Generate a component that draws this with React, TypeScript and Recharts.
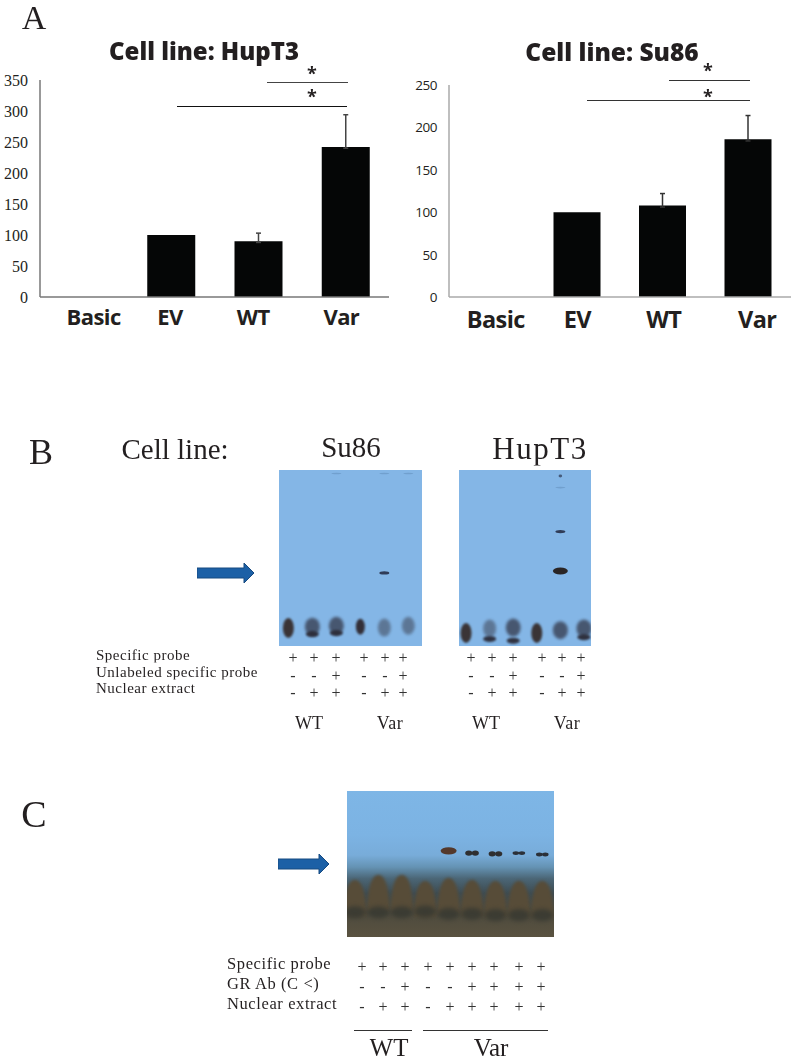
import React from 'react';
import { BarChart, Bar, XAxis, YAxis, ErrorBar, ScatterChart, Scatter } from 'recharts';

const SERIF = '"Liberation Serif", serif';
const SANS = '"Open Sans", sans-serif';

// panel A
const categories = ['Basic', 'EV', 'WT', 'Var'];
const hupT3Values = [0, 100, 90, 242];
const hupT3Errors = [null, null, 13, 52];
const hupT3Ticks = [0, 50, 100, 150, 200, 250, 300, 350];
const su86Values = [0, 100, 108, 186];
const su86Errors = [null, null, 14, 28];
const su86Ticks = [0, 50, 100, 150, 200, 250];

// panel B, C gels: lane number, % of the way down the gel, kind of band
const su86Gel = [
  { lane: 1, mobility: 89.8, kind: 'core' },
  { lane: 2, mobility: 89, kind: 'smear' },
  { lane: 2, mobility: 93.2, kind: 'base' },
  { lane: 3, mobility: 88.5, kind: 'smear' },
  { lane: 3, mobility: 92.6, kind: 'base' },
  { lane: 4, mobility: 89, kind: 'coreSmall' },
  { lane: 5, mobility: 89.5, kind: 'paleSmear' },
  { lane: 6, mobility: 88.5, kind: 'paleSmear' },
  { lane: 5, mobility: 58.5, kind: 'thin' },
  { lane: 3, mobility: 2, kind: 'faint' },
  { lane: 5, mobility: 2, kind: 'faint' },
  { lane: 6, mobility: 2, kind: 'faint' },
];
const hupT3Gel = [
  { lane: 1, mobility: 92.6, kind: 'core' },
  { lane: 2, mobility: 90, kind: 'paleSmear' },
  { lane: 2, mobility: 96, kind: 'base' },
  { lane: 3, mobility: 89.5, kind: 'smear' },
  { lane: 3, mobility: 97, kind: 'base' },
  { lane: 4, mobility: 92.6, kind: 'core' },
  { lane: 5, mobility: 91, kind: 'smear' },
  { lane: 6, mobility: 90, kind: 'smear' },
  { lane: 6, mobility: 95, kind: 'base' },
  { lane: 5, mobility: 57.4, kind: 'strong' },
  { lane: 5, mobility: 35, kind: 'thin' },
  { lane: 5, mobility: 3.4, kind: 'spot' },
  { lane: 5, mobility: 10, kind: 'faint' },
];
const grGelLanes = [1, 2, 3, 4, 5, 6, 7, 8, 9];
const grGelDomeTops = [61, 57.5, 57.5, 61.6, 59.6, 61, 61.6, 61.6, 61.6];
const grGelBlobs = [83, 83, 83, 82.5, 84, 84, 85, 85, 85];
const grGelBands = [
  { lane: 5, mobility: 41, kind: 'grStrong' },
  { lane: 6, mobility: 42.5, kind: 'grDouble' },
  { lane: 7, mobility: 43, kind: 'grDouble' },
  { lane: 8, mobility: 42.5, kind: 'grThin' },
  { lane: 9, mobility: 43.5, kind: 'grThin' },
];

// +/- rows under the gels
const probeRow = ['+', '+', '+', '+', '+', '+'];
const unlabeledRow = ['-', '-', '+', '-', '-', '+'];
const nuclearRow = ['-', '+', '+', '-', '+', '+'];
const grProbeRow = ['+', '+', '+', '+', '+', '+', '+', '+', '+'];
const grAbRow = ['-', '-', '+', '-', '-', '+', '+', '+', '+'];
const grNuclearRow = ['-', '+', '+', '-', '+', '+', '+', '+', '+'];

const bandStyles: any = {
  core: { rx: 5.5, ry: 10, fill: '#3a3436', blur: 0.9, opacity: 1 },
  coreSmall: { rx: 4.5, ry: 8, fill: '#332f38', blur: 0.9, opacity: 1 },
  smear: { rx: 7.5, ry: 9, fill: '#3f4a60', blur: 1.5, opacity: 0.88 },
  paleSmear: { rx: 6.5, ry: 9, fill: '#566c88', blur: 1.6, opacity: 0.85 },
  base: { rx: 6.5, ry: 3, fill: '#2c2c38', blur: 0.9, opacity: 0.95 },
  thin: { rx: 5, ry: 1.6, fill: '#2c3650', blur: 0.5, opacity: 0.95 },
  strong: { rx: 7.5, ry: 3.5, fill: '#2a2525', blur: 0.5, opacity: 1 },
  spot: { rx: 1.8, ry: 1.4, fill: '#3f5270', blur: 0.4, opacity: 0.9 },
  faint: { rx: 5, ry: 0.8, fill: '#6d9bc9', blur: 0.5, opacity: 0.8 },
  grStrong: { rx: 8, ry: 3.6, fill: '#54382a', blur: 0.5, opacity: 1 },
  grDouble: { rx: 6.5, ry: 2.6, fill: '#2f2f30', blur: 0.4, opacity: 1, lobes: true },
  grThin: { rx: 6, ry: 1.9, fill: '#2b3038', blur: 0.4, opacity: 1, lobes: true },
  blob: { rx: 11, ry: 6, fill: '#393a32', blur: 2, opacity: 0.9 },
};

const toRows = (values: number[], errors: (number | null)[]) =>
  categories.map((name, i) => ({
    name,
    value: values[i],
    // lower whisker stays inside the bar, only the upper one shows
    err: errors[i] == null ? null : [2, errors[i]],
  }));

const BandShape = (props: any) => {
  const { cx, cy, payload } = props;
  if (cx == null || cy == null) return null;
  const s = bandStyles[payload.kind];
  const style = { filter: `blur(${s.blur}px)` };
  if (s.lobes) {
    return (
      <g opacity={s.opacity} style={style}>
        <ellipse cx={cx - s.rx * 0.5} cy={cy} rx={s.rx * 0.55} ry={s.ry} fill={s.fill} />
        <ellipse cx={cx + s.rx * 0.5} cy={cy} rx={s.rx * 0.55} ry={s.ry} fill={s.fill} />
      </g>
    );
  }
  return <ellipse cx={cx} cy={cy} rx={s.rx} ry={s.ry} fill={s.fill} opacity={s.opacity} style={style} />;
};

const DomeShape = (props: any) => {
  const { cx, cy } = props;
  if (cx == null || cy == null) return null;
  return (
    <path
      d={`M${cx - 11},${cy + 36} C${cx - 11},${cy + 10} ${cx - 6},${cy} ${cx},${cy} C${cx + 6},${cy} ${cx + 11},${cy + 10} ${cx + 11},${cy + 36} Z`}
      fill="#574c38"
      style={{ filter: 'blur(1.5px)' }}
    />
  );
};

const makeCategoryTick = (nudges: number[], fontSize: number) => (props: any) => {
  const { x, y, payload, index } = props;
  return (
    <text
      x={x + nudges[index]}
      y={y}
      textAnchor="middle"
      dominantBaseline="central"
      fontFamily={SANS}
      fontWeight={700}
      fontSize={fontSize}
      letterSpacing={-0.6}
      fill="#231f20"
    >
      {payload.value}
    </text>
  );
};

const makeValueTick = (font: string, fontSize: number, spacing: number) => (props: any) => {
  const { x, y, payload } = props;
  return (
    <text x={x} y={y} textAnchor="end" dominantBaseline="central" fontFamily={font} fontSize={fontSize} letterSpacing={spacing} fill="#231f20">
      {payload.value}
    </text>
  );
};

const ExpressionChart = ({ left, top, width, height, data, ticks, max, barSize, nudges, labelSize, valueTick, axisColor, errColor, axisWidth, labelDrop }: any) => (
  <div style={{ position: 'absolute', left, top }}>
    <BarChart width={width} height={height} data={data} margin={{ top: 10, right: 0, left: 0, bottom: 0 }}>
      <XAxis
        dataKey="name"
        interval={0}
        tickLine={false}
        tickSize={0}
        tickMargin={labelDrop}
        height={40}
        stroke={axisColor}
        strokeWidth={1.5}
        tick={makeCategoryTick(nudges, labelSize)}
      />
      <YAxis
        width={axisWidth}
        domain={[0, max]}
        ticks={ticks}
        interval={0}
        tickLine={false}
        tickSize={0}
        tickMargin={12}
        stroke={axisColor}
        strokeWidth={1.5}
        tick={valueTick}
      />
      <Bar dataKey="value" fill="#050606" barSize={barSize} isAnimationActive={false}>
        <ErrorBar dataKey="err" direction="y" width={2.5} stroke={errColor} strokeWidth={1.5} isAnimationActive={false} />
      </Bar>
    </BarChart>
  </div>
);

const GelPanel = ({ left, top, width, height, background, domain, children }: any) => (
  <div style={{ position: 'absolute', left, top, width, height, background, overflow: 'hidden' }}>
    <ScatterChart width={width} height={height} margin={{ top: 0, right: 0, left: 0, bottom: 0 }}>
      <XAxis type="number" dataKey="lane" domain={domain} hide allowDataOverflow />
      <YAxis type="number" dataKey="mobility" domain={[0, 100]} reversed hide allowDataOverflow />
      {children}
    </ScatterChart>
  </div>
);

const Label = ({ x, y, size, children, font = SERIF, weight = 400, anchor = 'middle', color = '#231f20', spacing = 0 }: any) => (
  <div
    style={{
      position: 'absolute',
      left: x,
      top: y,
      transform: anchor === 'middle' ? 'translate(-50%, -50%)' : 'translate(0, -50%)',
      willChange: 'transform',
      fontFamily: font,
      fontSize: size,
      fontWeight: weight,
      color,
      letterSpacing: spacing,
      whiteSpace: 'nowrap',
      lineHeight: 1,
    }}
  >
    {children}
  </div>
);

const Rule = ({ x1, x2, y, color = '#222' }: any) => (
  <div style={{ position: 'absolute', left: x1, top: y, width: x2 - x1, height: 1, background: color }} />
);

const Arrow = ({ x, y, width }: any) => (
  <svg style={{ position: 'absolute', left: x, top: y - 11 }} width={width} height={22}>
    <polygon
      points={`0,6 ${width - 11},6 ${width - 11},1 ${width - 1},11 ${width - 11},21 ${width - 11},16 0,16`}
      fill="#1c60a6"
      stroke="#174a80"
      strokeWidth={1}
    />
  </svg>
);

const MarkRow = ({ marks, xs, y, size = 16 }: any) => (
  <>
    {marks.map((m: string, i: number) => (
      <Label key={i} x={xs[i]} y={y} size={size} color="#333">
        {m}
      </Label>
    ))}
  </>
);

const su86MarkX = [293, 314, 336, 364, 385, 403];
const hupT3MarkX = [471, 492, 513, 542, 562, 581];
const grMarkX = [362, 383, 405, 428, 450, 472, 494, 519, 541];

const grGelBackground =
  'linear-gradient(to bottom, #7eb6e6 0%, #7cb3e3 30%, #78acd9 44%, #6593b4 52%, #4b6676 60%, #3e4c52 70%, #4c4a3e 82%, #5a5240 100%)';

export default function App() {
  return (
    <div style={{ position: 'absolute', left: 0, top: 0, width: 795, height: 1060, background: '#fff', overflow: 'hidden' }}>
      <Label x={34} y={18} size={34}>A</Label>
      <Label x={204} y={51} size={24} font={SANS} weight={800}>Cell line: HupT3</Label>
      <Label x={612} y={52} size={24.5} font={SANS} weight={800}>Cell line: Su86</Label>

      <ExpressionChart
        left={0} top={70} width={389} height={267} axisWidth={40}
        data={toRows(hupT3Values, hupT3Errors)} ticks={hupT3Ticks} max={350} barSize={48}
        nudges={[10, -1, -5, -4]} labelSize={22} labelDrop={19}
        valueTick={makeValueTick(SERIF, 16, 0)} axisColor="#777" errColor="#444"
      />
      <ExpressionChart
        left={410} top={75} width={381} height={262} axisWidth={39}
        data={toRows(su86Values, su86Errors)} ticks={su86Ticks} max={250} barSize={47}
        nudges={[4, 0, 1, 9]} labelSize={23.5} labelDrop={22}
        valueTick={makeValueTick(SANS, 13.5, -0.5)} axisColor="#aaa" errColor="#333"
      />

      <Rule x1={267} x2={348} y={82} color="#444" />
      <Rule x1={177} x2={347} y={106} color="#111" />
      <Rule x1={669} x2={750} y={80} color="#333" />
      <Rule x1={587} x2={750} y={100} color="#333" />
      <Label x={312} y={73} size={18} font={SANS} weight={700}>*</Label>
      <Label x={312} y={96} size={18} font={SANS} weight={700}>*</Label>
      <Label x={708} y={70} size={18} font={SANS} weight={700}>*</Label>
      <Label x={708} y={96} size={18} font={SANS} weight={700}>*</Label>

      <Label x={41} y={452} size={36}>B</Label>
      <Label x={175} y={449} size={29}>Cell line:</Label>
      <Label x={351} y={447} size={29}>Su86</Label>
      <Label x={540} y={448} size={31} spacing={1.5}>HupT3</Label>

      <GelPanel left={279} top={470} width={143} height={176} background="#84b6e6" domain={[0.61, 6.57]}>
        <Scatter data={su86Gel} shape={BandShape} isAnimationActive={false} />
      </GelPanel>
      <GelPanel left={459} top={470} width={132} height={176} background="#84b6e6" domain={[0.7, 6.3]}>
        <Scatter data={hupT3Gel} shape={BandShape} isAnimationActive={false} />
      </GelPanel>
      <Arrow x={197} y={573} width={58} />

      <Label x={96} y={655} size={15} spacing={0.5} anchor="start">Specific probe</Label>
      <Label x={96} y={672} size={15} spacing={0.5} anchor="start">Unlabeled specific probe</Label>
      <Label x={96} y={688} size={15} spacing={0.5} anchor="start">Nuclear extract</Label>
      <MarkRow marks={probeRow} xs={su86MarkX} y={658} />
      <MarkRow marks={unlabeledRow} xs={su86MarkX} y={676} />
      <MarkRow marks={nuclearRow} xs={su86MarkX} y={693} />
      <MarkRow marks={probeRow} xs={hupT3MarkX} y={658} />
      <MarkRow marks={unlabeledRow} xs={hupT3MarkX} y={676} />
      <MarkRow marks={nuclearRow} xs={hupT3MarkX} y={693} />
      <Label x={309} y={723} size={18}>WT</Label>
      <Label x={390} y={723} size={18} spacing={0.5}>Var</Label>
      <Label x={486} y={723} size={18}>WT</Label>
      <Label x={567} y={723} size={18} spacing={0.5}>Var</Label>

      <Label x={34} y={814} size={38}>C</Label>
      <GelPanel left={347} top={791} width={207} height={146} background={grGelBackground} domain={[0.66, 9.5]}>
        <Scatter data={grGelLanes.map((lane, i) => ({ lane, mobility: grGelDomeTops[i] }))} shape={DomeShape} isAnimationActive={false} />
        <Scatter data={grGelLanes.map((lane, i) => ({ lane, mobility: grGelBlobs[i], kind: 'blob' }))} shape={BandShape} isAnimationActive={false} />
        <Scatter data={grGelBands} shape={BandShape} isAnimationActive={false} />
      </GelPanel>
      <Arrow x={278} y={864} width={52} />

      <Label x={227} y={964} size={16.5} spacing={0.6} anchor="start">Specific probe</Label>
      <Label x={227} y={984} size={16.5} spacing={0.6} anchor="start">GR Ab (C &lt;)</Label>
      <Label x={227} y={1004} size={16.5} spacing={0.6} anchor="start">Nuclear extract</Label>
      <MarkRow marks={grProbeRow} xs={grMarkX} y={967} />
      <MarkRow marks={grAbRow} xs={grMarkX} y={987} />
      <MarkRow marks={grNuclearRow} xs={grMarkX} y={1007} />
      <Rule x1={354} x2={412} y={1030} color="#333" />
      <Rule x1={423} x2={548} y={1030} color="#333" />
      <Label x={389} y={1047} size={25}>WT</Label>
      <Label x={491} y={1047} size={25}>Var</Label>
    </div>
  );
}
